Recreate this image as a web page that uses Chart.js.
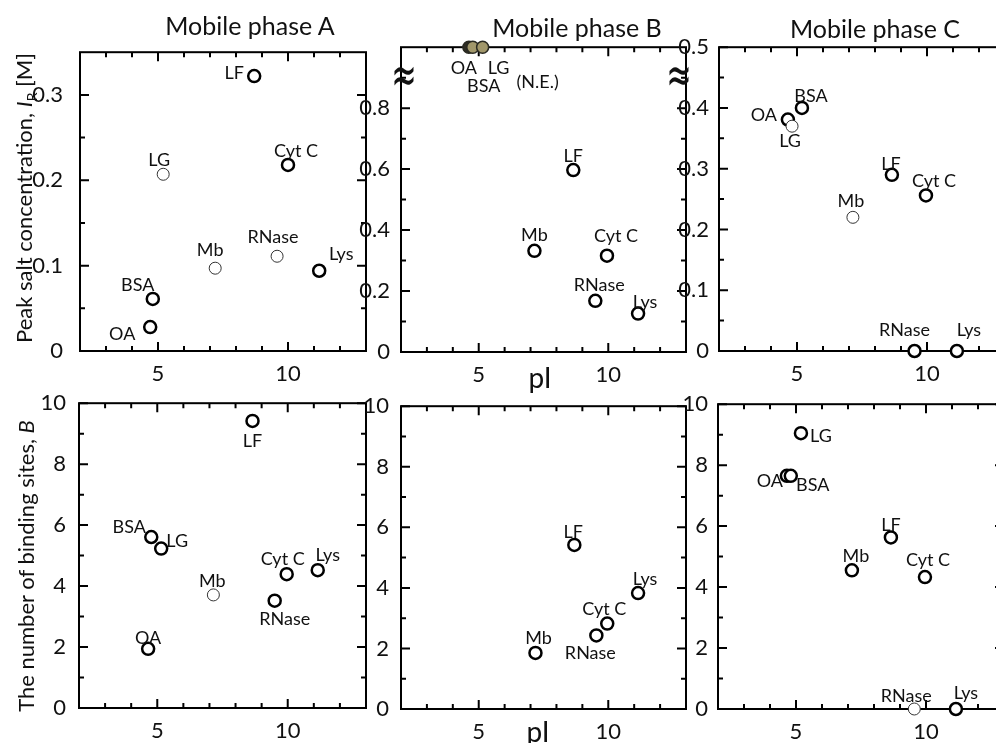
<!DOCTYPE html>
<html>
<head>
<meta charset="utf-8">
<script src="https://cdn.jsdelivr.net/npm/chart.js@4.4.0/dist/chart.umd.min.js"></script>
<style>
  html, body { margin: 0; padding: 0; background: #fff; overflow: hidden; }
  #fig { position: relative; width: 996px; height: 743px; overflow: hidden;
         font-family: Lato, 'Open Sans', sans-serif; color: #111; }
  #fig canvas { position: absolute; }
  .txt { position: absolute; white-space: nowrap; transform: translate(-50%, -50%); z-index: 5; line-height: 1; }
  .rot { transform: translate(-50%, -50%) rotate(-90deg); }
  .brk { font-family: 'DejaVu Sans', sans-serif; font-size: 32px;
         transform: translate(-50%, -50%) scale(0.95, 1.6); }
</style>
</head>
<body>
<div id="fig">
  <div class="txt" style="left:250px;top:25px;font-size:25px;">Mobile phase A</div>
  <div class="txt" style="left:577px;top:27px;font-size:25px;">Mobile phase B</div>
  <div class="txt" style="left:875px;top:28px;font-size:25px;">Mobile phase C</div>
  <div class="txt rot" style="left:26px;top:198px;font-size:22px;">Peak salt concentration, <i>I</i><sub style="font-size:14px;">R</sub> [M]</div>
  <div class="txt rot" style="left:26px;top:566px;font-size:22px;">The number of binding sites, <i>B</i></div>
  <div class="txt" style="left:540px;top:377px;font-size:28px;">pI</div>
  <div class="txt" style="left:538px;top:731px;font-size:28px;">pI</div>
  <div class="txt brk" style="left:404px;top:74px;">≈</div>
  <div class="txt brk" style="left:679px;top:74px;">≈</div>
</div>
<script>
// shared x axis (pI)
const xMin = 2, xMax = 13;
const xLabelTicks = [5, 10];
const xMinorTicks = [3, 4, 6, 7, 8, 9, 11, 12];

// ---- top row: peak salt concentration I_R [M] ----
const namesA1 = ['OA', 'BSA', 'LG', 'Mb', 'LF', 'RNase', 'Cyt C', 'Lys'];
const pIA1 = [4.7, 4.8, 5.2, 7.2, 8.7, 9.58, 10.0, 11.2];
const saltA = [0.028, 0.061, 0.207, 0.097, 0.322, 0.111, 0.218, 0.094];

const namesB1 = ['OA', 'BSA', 'LG', 'Mb', 'LF', 'RNase', 'Cyt C', 'Lys'];
const pIB1 = [4.62, 4.77, 5.15, 7.15, 8.65, 9.5, 9.95, 11.15];
const saltB = [1.0, 1.0, 1.0, 0.332, 0.597, 0.168, 0.316, 0.126]; // first three: not eluted (N.E.)

const namesC1 = ['OA', 'LG', 'BSA', 'Mb', 'LF', 'RNase', 'Cyt C', 'Lys'];
const pIC1 = [4.65, 4.81, 5.19, 7.15, 8.65, 9.52, 9.96, 11.15];
const saltC = [0.381, 0.37, 0.40, 0.22, 0.29, 0, 0.256, 0];

// ---- bottom row: number of binding sites B ----
const namesA2 = ['OA', 'BSA', 'LG', 'Mb', 'LF', 'RNase', 'Cyt C', 'Lys'];
const pIA2 = [4.65, 4.77, 5.15, 7.15, 8.65, 9.5, 9.96, 11.15];
const sitesA = [1.94, 5.61, 5.23, 3.71, 9.42, 3.52, 4.39, 4.52];

const namesB2 = ['Mb', 'LF', 'RNase', 'Cyt C', 'Lys'];
const pIB2 = [7.19, 8.69, 9.54, 9.96, 11.15];
const sitesB = [1.85, 5.42, 2.43, 2.82, 3.83];

const namesC2 = ['OA', 'BSA', 'LG', 'Mb', 'LF', 'RNase', 'Cyt C', 'Lys'];
const pIC2 = [4.65, 4.8, 5.19, 7.15, 8.65, 9.55, 9.96, 11.15];
const sitesC = [7.65, 7.65, 9.05, 4.55, 5.63, 0, 4.33, 0];

// y tick values
const saltATicks = [0, 0.1, 0.2, 0.3];
const saltAMinor = [0.05, 0.15, 0.25];
const saltBTicks = [0, 0.2, 0.4, 0.6, 0.8];
const saltBMinor = [0.1, 0.3, 0.5, 0.7, 0.9];
const saltCTicks = [0, 0.1, 0.2, 0.3, 0.4, 0.5];
const saltCMinor = [0.05, 0.15, 0.25, 0.35, 0.45];
const sitesTicks = [0, 2, 4, 6, 8, 10];
const sitesMinor = [1, 3, 5, 7, 9];

const FONT = 'Lato, "Open Sans", sans-serif';
const PAD_L = 60, PAD_T = 12, PAD_R = 12, PAD_B = 40;
const fig = document.getElementById('fig');

function frameTicks(p) {
  return {
    id: 'frameTicks',
    beforeDatasetsDraw(chart) {
      const { ctx, chartArea: a, scales } = chart;
      ctx.save();
      ctx.strokeStyle = '#000';
      ctx.lineWidth = 2;
      ctx.strokeRect(a.left, a.top, a.right - a.left, a.bottom - a.top);
      ctx.beginPath();
      const xt = (vals, len) => vals.forEach(v => {
        const px = scales.x.getPixelForValue(v);
        ctx.moveTo(px, a.bottom); ctx.lineTo(px, a.bottom - len);
        ctx.moveTo(px, a.top); ctx.lineTo(px, a.top + len);
      });
      const yt = (vals, len) => vals.forEach(v => {
        const py = scales.y.getPixelForValue(v);
        ctx.moveTo(a.left, py); ctx.lineTo(a.left + len, py);
        ctx.moveTo(a.right, py); ctx.lineTo(a.right - len, py);
      });
      xt(xLabelTicks, 9);
      xt(xMinorTicks, 5);
      yt(p.yTicks, 9);
      yt(p.yMinor, 5);
      ctx.stroke();
      ctx.restore();
    }
  };
}

function pointLabels(p) {
  return {
    id: 'pointLabels',
    afterDatasetsDraw(chart) {
      const { ctx } = chart;
      const pts = chart.getDatasetMeta(0).data;
      ctx.save();
      ctx.fillStyle = '#111';
      ctx.font = '18px ' + FONT;
      ctx.textAlign = 'center';
      ctx.textBaseline = 'middle';
      p.names.forEach((n, i) => {
        const o = p.offsets[i];
        ctx.fillText(n, pts[i].x + o[0], pts[i].y + o[1]);
      });
      (p.notes || []).forEach(nt => {
        const pt = pts[nt.at];
        ctx.fillText(nt.text, pt.x + nt.dx, pt.y + nt.dy);
      });
      ctx.restore();
    }
  };
}

function makePanel(p) {
  const f = p.frame;
  const cv = document.createElement('canvas');
  cv.width = (f.r - f.l) + PAD_L + PAD_R;
  cv.height = (f.b - f.t) + PAD_T + PAD_B;
  cv.style.left = (f.l - PAD_L) + 'px';
  cv.style.top = (f.t - PAD_T) + 'px';
  fig.appendChild(cv);

  const isFilled = n => p.filled && p.filled[n];
  const fill = p.names.map(n => isFilled(n) || '#fff');
  const edge = p.names.map(n => isFilled(n) ? '#2a2a22' : (p.thin.includes(n) ? '#333' : '#000'));
  const bw = p.names.map(n => isFilled(n) ? 1.5 : (p.thin.includes(n) ? 1 : 2.5));

  new Chart(cv, {
    type: 'scatter',
    data: {
      datasets: [{
        data: p.x.map((v, i) => ({ x: v, y: p.y[i] })),
        pointRadius: 6,
        pointHoverRadius: 6,
        pointBackgroundColor: fill,
        pointBorderColor: edge,
        pointBorderWidth: bw,
        clip: false
      }]
    },
    options: {
      responsive: false,
      animation: false,
      devicePixelRatio: 1,
      layout: { padding: { left: 0, top: PAD_T, right: PAD_R, bottom: 0 } },
      plugins: { legend: { display: false }, tooltip: { enabled: false } },
      scales: {
        x: {
          type: 'linear', position: 'bottom', min: xMin, max: xMax,
          grid: { display: false }, border: { display: false },
          afterBuildTicks: s => { s.ticks = xLabelTicks.map(v => ({ value: v })); },
          afterFit: s => { s.height = PAD_B; },
          ticks: { color: '#111', font: { family: FONT, size: 22 }, padding: 2,
                   maxRotation: 0, autoSkip: false, callback: v => String(v) }
        },
        y: {
          type: 'linear', position: 'left', min: 0, max: p.yMax,
          grid: { display: false }, border: { display: false },
          afterBuildTicks: s => { s.ticks = p.yTicks.map(v => ({ value: v })); },
          afterFit: s => { s.width = PAD_L; },
          ticks: { color: '#111', font: { family: FONT, size: 22 }, padding: p.yPad,
                   autoSkip: false, callback: v => String(v) }
        }
      }
    },
    plugins: [frameTicks(p), pointLabels(p)]
  });
}

// Mobile phase A – I_R
makePanel({
  frame: { l: 80, t: 42, r: 366, b: 351 },
  names: namesA1, x: pIA1, y: saltA, yMax: 0.35, yTicks: saltATicks, yMinor: saltAMinor, yPad: 9,
  thin: ['LG', 'Mb', 'RNase'],
  offsets: [[-28, 7], [-15, -14], [-4, -14], [-5, -18], [-20, -3], [-4, -19], [8, -14], [22, -17]]
});
// Mobile phase B – I_R
makePanel({
  frame: { l: 401, t: 43, r: 686, b: 352 },
  names: namesB1, x: pIB1, y: saltB, yMax: 1.0, yTicks: saltBTicks, yMinor: saltBMinor, yPad: 3,
  thin: [],
  filled: { 'OA': '#2f2d24', 'BSA': '#a1976a', 'LG': '#a1976a' },
  offsets: [[-5, 21], [11, 39], [16, 21], [0, -16], [0, -14], [4, -16], [9, -19], [7, -11]],
  notes: [{ text: '(N.E.)', at: 2, dx: 55, dy: 35 }]
});
// Mobile phase C – I_R
makePanel({
  frame: { l: 719, t: 44, r: 1005, b: 351 },
  names: namesC1, x: pIC1, y: saltC, yMax: 0.5, yTicks: saltCTicks, yMinor: saltCMinor, yPad: 2,
  thin: ['LG', 'Mb'],
  offsets: [[-24, -4], [-2, 15], [9, -12], [-2, -16], [-1, -11], [-10, -21], [8, -14], [12, -21]]
});
// Mobile phase A – B
makePanel({
  frame: { l: 79, t: 397, r: 366, b: 708 },
  names: namesA2, x: pIA2, y: sitesA, yMax: 10, yTicks: sitesTicks, yMinor: sitesMinor, yPad: 5,
  thin: ['Mb'],
  offsets: [[0, -11], [-22, -10], [16, -7], [-1, -14], [0, 20], [10, 18], [-4, -15], [10, -15]]
});
// Mobile phase B – B
makePanel({
  frame: { l: 401, t: 401, r: 686, b: 709 },
  names: namesB2, x: pIB2, y: sitesB, yMax: 10, yTicks: sitesTicks, yMinor: sitesMinor, yPad: 4,
  thin: [],
  offsets: [[3, -15], [-1, -13], [-6, 18], [-3, -14], [7, -14]]
});
// Mobile phase C – B
makePanel({
  frame: { l: 718, t: 401, r: 1004, b: 709 },
  names: namesC2, x: pIC2, y: sitesC, yMax: 10, yTicks: sitesTicks, yMinor: sitesMinor, yPad: 2,
  thin: ['RNase'],
  offsets: [[-17, 5], [22, 9], [20, 3], [4, -14], [0, -12], [-8, -13], [3, -17], [10, -16]]
});
</script>
</body>
</html>
